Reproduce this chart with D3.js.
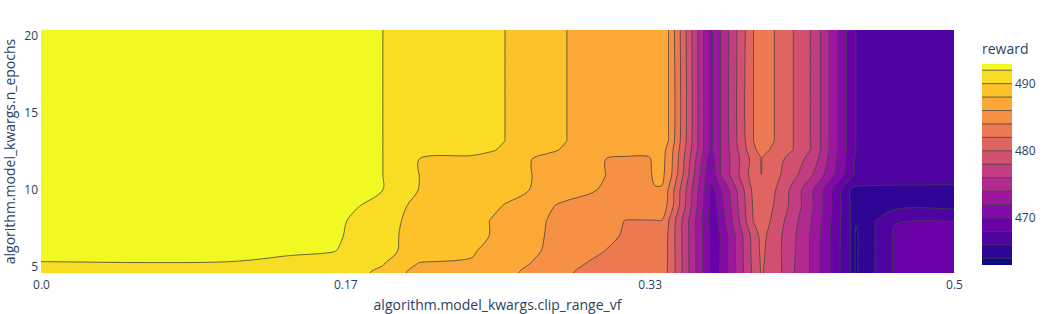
<!DOCTYPE html>
<html>
<head>
<meta charset="utf-8">
<script src="https://cdn.jsdelivr.net/npm/d3@7"></script>
<style>
  body { margin: 0; background: #fff; }
  text { font-family: "Open Sans", verdana, arial, sans-serif; fill: #2a3f5f; }
</style>
</head>
<body>
<div id="chart"></div>
<script>
// Contour grid ###############################################
// x: algorithm.model_kwargs.clip_range_vf (grid columns)
var clipRangeVf = [0, 0.1033, 0.1361, 0.1623, 0.1727, 0.1874, 0.1962, 0.2071, 0.2361, 0.2459,
  0.2541, 0.2689, 0.2770, 0.2880, 0.3093, 0.3202, 0.3328, 0.3361, 0.3399, 0.3437,
  0.3667, 0.3689, 0.3721, 0.3902, 0.3945, 0.4016, 0.4120, 0.4213, 0.4268, 0.4432,
  0.4464, 0.4497, 0.4568, 0.4678, 0.5];

// y: algorithm.model_kwargs.n_epochs (grid rows)
var nEpochs = [4.6, 5.25, 6, 7, 8, 9, 10, 11, 12, 12.6, 13.2, 20.4];

// reward, one row per n_epochs value
var reward = [
  [491.6, 491.6, 491.0, 490.6, 490.3, 489.7, 488.15, 487.7, 487.2, 486.9, 486.45, 485.55, 485.0, 484.2, 483.0, 482.8, 482.6, 482.5, 482.45, 481.9, 469.7, 469.0, 470.15, 478.5, 480.15, 479.2, 476.1, 473.9, 471.9, 466.0, 463.6, 465.0, 466.0, 468.3, 469.2],
  [491.7, 491.7, 491.0, 490.8, 490.6, 490.1, 489.3, 487.95, 487.91, 487.5, 487.0, 485.95, 485.4, 484.7, 483.3, 483.0, 482.7, 482.6, 482.5, 481.9, 469.7, 469.0, 470.15, 478.6, 480.25, 479.1, 476.2, 473.9, 471.9, 466.0, 463.6, 465.0, 466.0, 468.3, 469.2],
  [494.2, 494.2, 492.56, 491.97, 491.2, 490.4, 489.95, 489.2, 488.1, 487.7, 487.0, 486.3, 485.8, 485.0, 483.95, 483.5, 483.0, 483.0, 482.9, 481.85, 469.71, 469.0, 470.1, 478.7, 480.4, 479.0, 476.3, 473.9, 471.9, 466.0, 463.6, 465.0, 466.0, 468.3, 469.2],
  [493.0, 493.0, 493.0, 492.2, 491.55, 490.6, 489.98, 489.4, 488.5, 487.97, 487.3, 486.5, 485.9, 485.2, 484.4, 483.8, 483.4, 483.3, 483.1, 481.82, 469.71, 469.0, 470.05, 478.85, 480.6, 479.04, 476.4, 473.9, 471.95, 466.0, 463.6, 465.0, 466.0, 468.3, 469.2],
  [493.0, 493.0, 493.0, 492.3, 491.7, 490.8, 490.05, 489.6, 488.6, 487.98, 487.5, 486.6, 485.98, 485.3, 484.6, 483.95, 483.95, 483.95, 483.95, 482.05, 469.4, 469.0, 470.6, 480.1, 481.2, 479.47, 476.71, 474.17, 472.2, 466.0, 464.2, 465.0, 466.0, 467.9, 467.95],
  [493.0, 493.0, 493.0, 492.6, 492.1, 491.5, 490.2, 489.7, 488.9, 488.3, 487.95, 487.0, 486.3, 485.6, 485.3, 485.2, 485.2, 485.2, 485.2, 483.6, 469.6, 469.3, 471.14, 480.28, 481.4, 479.88, 477.33, 474.55, 472.6, 466.0, 465.3, 465.3, 465.3, 465.3, 465.4],
  [493.0, 493.0, 493.0, 492.9, 492.8, 491.99, 491.0, 489.95, 489.01, 488.69, 488.43, 487.95, 487.5, 486.9, 485.73, 485.3, 485.5, 485.8, 485.8, 483.8, 469.8, 469.9, 471.71, 480.53, 481.5, 480.2, 477.38, 474.55, 472.6, 466.0, 465.5, 465.5, 465.5, 465.5, 465.5],
  [493.0, 493.0, 493.0, 492.9, 492.8, 491.99, 491.1, 490.0, 489.06, 488.74, 488.48, 488.0, 487.59, 487.05, 486.0, 485.3, 485.5, 486.5, 486.5, 485.1, 470.3, 471.7, 474.0, 481.07, 482.0, 480.7, 478.59, 476.4, 474.73, 468.73, 467.53, 467.4, 467.2, 467.1, 467.0],
  [493.0, 493.0, 493.0, 492.9, 492.8, 491.99, 491.1, 490.0, 489.06, 488.74, 488.48, 488.0, 487.59, 487.05, 486.0, 485.6, 485.7, 486.6, 486.6, 485.3, 470.9, 471.9, 474.0, 480.83, 482.0, 480.87, 479.18, 477.33, 475.6, 468.9, 467.55, 467.5, 467.4, 467.3, 467.1],
  [493.0, 493.0, 493.0, 492.9, 492.8, 491.99, 491.6, 491.2, 491.41, 490.35, 489.47, 488.71, 488.28, 487.8, 487.0, 486.9, 486.8, 486.8, 486.7, 485.47, 471.6, 472.4, 474.0, 481.56, 482.8, 481.5, 480.0, 478.0, 476.0, 469.14, 467.95, 467.9, 467.8, 467.6, 467.2],
  [493.0, 493.0, 493.0, 492.9, 492.8, 491.99, 491.73, 491.4, 490.54, 490.24, 490.0, 489.13, 488.65, 488.0, 487.24, 486.84, 486.39, 486.27, 486.14, 486.0, 471.6, 472.4, 474.0, 482.0, 483.5, 482.0, 480.0, 478.0, 476.0, 469.14, 467.95, 467.9, 467.8, 467.6, 467.2],
  [493.0, 493.0, 493.0, 492.9, 492.8, 491.99, 491.73, 491.4, 490.54, 490.24, 490.0, 489.13, 488.65, 488.0, 487.24, 486.84, 486.39, 486.27, 486.14, 486.0, 471.6, 472.4, 474.0, 482.0, 483.5, 482.0, 480.0, 478.0, 476.0, 469.14, 467.95, 467.9, 467.8, 467.6, 467.2]
];

// ticks
var xTicks = [0, 1 / 6, 1 / 3, 0.5];
var xTickLabels = ["0.0", "0.17", "0.33", "0.5"];
var yTicks = [5, 10, 15, 20];
var barTicks = [470, 480, 490];

// contour levels (start, end, size) and colour range
var levelStart = 464, levelEnd = 492, levelSize = 2;
var zMin = 463, zMax = 493;

// plotly "Plasma"
var plasma = ["#0d0887", "#46039f", "#7201a8", "#9c179e", "#bd3786",
  "#d8576b", "#ed7953", "#fb9f3a", "#fdca26", "#f0f921"];

// Layout ######################################################
var width = 1045;
var height = 314;
var plot = { left: 41, right: 954, top: 30, bottom: 273 };
var bar = { left: 982, width: 30, top: 63.5, bottom: 265 };

var svg = d3.select("#chart")
  .append("svg")
  .attr("width", width)
  .attr("height", height);

var xScale = d3.scaleLinear().domain([0, 0.5]).range([plot.left, plot.right]);
var yScale = d3.scaleLinear().domain([4.6, 20.4]).range([plot.bottom, plot.top]);

var colorScale = d3.scaleLinear()
  .domain(plasma.map(function(c, i) { return i / (plasma.length - 1); }))
  .range(plasma)
  .interpolate(d3.interpolateRgb);

// colour of the band that starts at level l
function bandColor(l) {
  return colorScale((l + levelSize / 2 - zMin) / (zMax - zMin));
}

var levels = d3.range(levelStart, levelEnd + levelSize / 2, levelSize);

// Contours ###################################################
var nx = clipRangeVf.length;
var ny = nEpochs.length;
var values = [];
reward.forEach(function(row) { row.forEach(function(v) { values.push(v); }); });

var contours = d3.contours().size([nx, ny]).thresholds(levels)(values);

// grid coordinate -> pixel (grid is not evenly spaced);
// the outer border of the grid is pushed a few px outside the plot
var edgePad = 8;
function gridToPx(c, arr, scale) {
  var n = arr.length;
  if (c <= 0) return scale(arr[0]) - edgePad * Math.sign(scale(arr[1]) - scale(arr[0]));
  if (c >= n) return scale(arr[n - 1]) + edgePad * Math.sign(scale(arr[n - 1]) - scale(arr[n - 2]));
  var f = Math.max(0, Math.min(n - 1, c - 0.5));
  var i = Math.min(Math.floor(f), n - 2);
  var t = f - i;
  return scale(arr[i] + t * (arr[i + 1] - arr[i]));
}

function projectRing(ring) {
  var pts = ring.slice(0, -1);
  var n = pts.length;
  var onX = pts.map(function(p) { return p[0] <= 0 || p[0] >= nx; });
  var onY = pts.map(function(p) { return p[1] <= 0 || p[1] >= ny; });
  var px = pts.map(function(p) {
    return [gridToPx(p[0], clipRangeVf, xScale), gridToPx(p[1], nEpochs, yScale)];
  });
  // border points take the position of the contour crossing next to them,
  // so lines leave the plot straight
  return px.map(function(q, k) {
    if (!(onX[k] || onY[k]) || (onX[k] && onY[k])) return q;
    var prev = (k - 1 + n) % n, next = (k + 1) % n;
    var nb = !(onX[prev] || onY[prev]) ? prev : (!(onX[next] || onY[next]) ? next : -1);
    if (nb < 0) return q;
    return onX[k] ? [q[0], px[nb][1]] : [px[nb][0], q[1]];
  });
}

var ringLine = d3.line().curve(d3.curveCatmullRomClosed.alpha(0.5));

function contourPath(d) {
  return d.coordinates.map(function(polygon) {
    return polygon.map(function(ring) { return ringLine(projectRing(ring)); }).join("");
  }).join("");
}

var defs = svg.append("defs");
defs.append("clipPath").attr("id", "plotClip")
  .append("rect")
  .attr("x", plot.left).attr("y", plot.top)
  .attr("width", plot.right - plot.left).attr("height", plot.bottom - plot.top);

var fills = svg.append("g").attr("clip-path", "url(#plotClip)");
fills.append("rect")
  .attr("x", plot.left).attr("y", plot.top)
  .attr("width", plot.right - plot.left).attr("height", plot.bottom - plot.top)
  .attr("fill", colorScale(0));

fills.selectAll("path.band")
  .data(contours)
  .enter().append("path")
  .attr("class", "band")
  .attr("d", contourPath)
  .attr("fill", function(d) { return bandColor(d.value); })
  .attr("fill-rule", "evenodd");

fills.selectAll("path.level")
  .data(contours)
  .enter().append("path")
  .attr("class", "level")
  .attr("d", contourPath)
  .attr("fill", "none")
  .attr("stroke", "#444")
  .attr("stroke-width", 0.8)
  .attr("stroke-linejoin", "round");

// Axes ########################################################
var xAxis = d3.axisBottom(xScale)
  .tickValues(xTicks)
  .tickFormat(function(d, i) { return xTickLabels[i]; })
  .tickSize(0)
  .tickPadding(7);

svg.append("g")
  .attr("transform", "translate(0," + plot.bottom + ")")
  .call(xAxis)
  .call(function(g) { g.select(".domain").remove(); })
  .selectAll("text")
  .attr("font-size", 12);

var yAxis = d3.axisLeft(yScale)
  .tickValues(yTicks)
  .tickSize(0)
  .tickPadding(3);

svg.append("g")
  .attr("transform", "translate(" + plot.left + ",0)")
  .call(yAxis)
  .call(function(g) { g.select(".domain").remove(); })
  .selectAll("text")
  .attr("font-size", 12);

svg.selectAll(".tick text").style("font-family", "'Open Sans', verdana, arial, sans-serif");

// axis titles
svg.append("text")
  .attr("x", (plot.left + plot.right) / 2)
  .attr("y", 310)
  .attr("text-anchor", "middle")
  .attr("font-size", 14)
  .text("algorithm.model_kwargs.clip_range_vf");

svg.append("text")
  .attr("transform", "translate(15," + (plot.top + plot.bottom) / 2 + ") rotate(-90)")
  .attr("text-anchor", "middle")
  .attr("font-size", 14)
  .text("algorithm.model_kwargs.n_epochs");

// Colour bar ##################################################
var barScale = d3.scaleLinear().domain([zMin, zMax]).range([bar.bottom, bar.top]);

var bands = [[zMin, levelStart, colorScale(0)]];
levels.forEach(function(l) {
  bands.push([l, Math.min(l + levelSize, zMax), bandColor(l)]);
});

var cbar = svg.append("g");
cbar.selectAll("rect")
  .data(bands)
  .enter().append("rect")
  .attr("x", bar.left)
  .attr("width", bar.width)
  .attr("y", function(d) { return barScale(d[1]); })
  .attr("height", function(d) { return barScale(d[0]) - barScale(d[1]); })
  .attr("fill", function(d) { return d[2]; })
  .attr("shape-rendering", "crispEdges");

cbar.selectAll("line")
  .data(levels)
  .enter().append("line")
  .attr("x1", bar.left).attr("x2", bar.left + bar.width)
  .attr("y1", function(d) { return barScale(d); })
  .attr("y2", function(d) { return barScale(d); })
  .attr("stroke", "#444")
  .attr("stroke-width", 0.8);

cbar.selectAll("text.tick")
  .data(barTicks)
  .enter().append("text")
  .attr("class", "tick")
  .attr("x", bar.left + bar.width + 3)
  .attr("y", function(d) { return barScale(d); })
  .attr("dy", "0.35em")
  .attr("font-size", 12)
  .text(function(d) { return d; });

svg.append("text")
  .attr("x", bar.left)
  .attr("y", 54)
  .attr("font-size", 14)
  .text("reward");
</script>
</body>
</html>
